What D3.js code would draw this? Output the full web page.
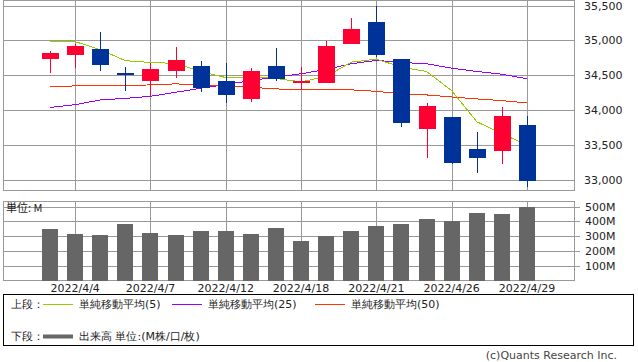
<!DOCTYPE html>
<html>
<head>
<meta charset="utf-8">
<script src="https://cdn.jsdelivr.net/npm/d3@7"></script>
<style>
  body { margin: 0; background: #fff; }
  text { font-family: "DejaVu Sans", sans-serif; }
  .jp { font-family: "Noto Sans CJK JP", sans-serif; }
</style>
</head>
<body>
<div id="chart"></div>
<script>
const dates = ["2022/4/1", "2022/4/4", "2022/4/5", "2022/4/6", "2022/4/7", "2022/4/8", "2022/4/11", "2022/4/12", "2022/4/13", "2022/4/14",
  "2022/4/18", "2022/4/19", "2022/4/20", "2022/4/21", "2022/4/22", "2022/4/25", "2022/4/26", "2022/4/27", "2022/4/28", "2022/4/29"]
const open_values = [34730, 34790, 34870, 34525, 34420, 34555, 34625, 34410, 34150, 34625, 34400, 34385, 34945, 35260, 34725, 33720, 33900, 33440, 33415, 33790]
const high_values = [34840, 34950, 35115, 34610, 34680, 34900, 34700, 34670, 34595, 34885, 34610, 34985, 35320, 35495, 34725, 34105, 33905, 33685, 34045, 33915]
const low_values = [34530, 34600, 34555, 34265, 34190, 34455, 34255, 34095, 34120, 34420, 34280, 34380, 34945, 34755, 33760, 33315, 33220, 33095, 33225, 32895]
const close_values = [34818, 34922, 34641, 34497, 34584, 34721, 34308, 34220, 34565, 34451, 34412, 34911, 35161, 34793, 33811, 34049, 33240, 33302, 33916, 32977]
const ma5_values = [34981, 34981, 34866, 34707, 34682, 34668, 34552, 34465, 34475, 34451, 34403, 34480, 34686, 34730, 34614, 34552, 34278, 33830, 33661, 33493]
const ma25_values = [34036, 34075, 34143, 34166, 34195, 34253, 34311, 34364, 34422, 34470, 34519, 34581, 34663, 34711, 34682, 34663, 34600, 34552, 34513, 34447]
const ma50_values = [34331, 34345, 34345, 34345, 34360, 34374, 34360, 34345, 34325, 34302, 34288, 34288, 34288, 34267, 34230, 34215, 34186, 34158, 34133, 34100]
const volume_values = [346, 312, 305, 380, 319, 305, 332, 332, 312, 353, 264, 298, 332, 366, 380, 414, 400, 454, 447, 495]

const tick_dates = ["2022/4/4", "2022/4/7", "2022/4/12", "2022/4/18", "2022/4/21", "2022/4/26", "2022/4/29"]
const price_ticks = [33000, 33500, 34000, 34500, 35000, 35500]
const volume_ticks = [100, 200, 300, 400, 500]

const width = 638
const height = 362
const left = 3
const right = 574

const svg = d3.select("#chart")
  .append("svg")
  .attr("width", width)
  .attr("height", height)
  .style("display", "block")

const x = d3.scalePoint().domain(dates).range([left, right]).padding(1.875)
const px = (d) => Math.round(x(d)) + 0.5

// price panel: top 0.5 .. bottom 190.5
const price_top = 0.5, price_bottom = 190.5
const y = d3.scaleLinear().domain([33000, 35500]).range([179.5, 5.5])

// volume panel
const vol_top = 201.5, vol_bottom = 280.5
const yv = d3.scaleLinear().domain([0, 500]).range([vol_bottom, 206.5])

const grid = "#999"

const draw_frame = (top, bottom) => {
  const g = svg.append("g").attr("shape-rendering", "crispEdges")
  g.selectAll("line.v")
    .data(tick_dates)
    .join("line")
    .attr("x1", px).attr("x2", px)
    .attr("y1", top).attr("y2", bottom)
    .attr("stroke", grid)
  g.append("rect")
    .attr("x", left + 0.5).attr("y", top)
    .attr("width", right - left).attr("height", bottom - top)
    .attr("fill", "none").attr("stroke", grid)
  return g
}

const price_grid = draw_frame(price_top, price_bottom)
price_grid.selectAll("line.h")
  .data(price_ticks)
  .join("line")
  .attr("x1", left).attr("x2", right)
  .attr("y1", (d) => Math.round(y(d)) + 0.5).attr("y2", (d) => Math.round(y(d)) + 0.5)
  .attr("stroke", grid)

const vol_grid = draw_frame(vol_top, vol_bottom)
vol_grid.selectAll("line.h")
  .data(volume_ticks)
  .join("line")
  .attr("x1", left).attr("x2", right + 6)
  .attr("y1", (d) => Math.round(yv(d)) + 0.5).attr("y2", (d) => Math.round(yv(d)) + 0.5)
  .attr("stroke", grid)

// price labels
svg.selectAll("text.price")
  .data(price_ticks)
  .join("text")
  .attr("x", 584)
  .attr("y", (d) => y(d) + 4)
  .attr("font-size", 11)
  .attr("fill", "#222")
  .text(d3.format(","))

svg.selectAll("text.vol")
  .data(volume_ticks)
  .join("text")
  .attr("x", 585)
  .attr("y", (d) => yv(d) + 4)
  .attr("font-size", 11)
  .attr("fill", "#222")
  .text((d) => d + "M")

svg.selectAll("text.date")
  .data(tick_dates)
  .join("text")
  .attr("x", (d) => x(d))
  .attr("y", 292)
  .attr("text-anchor", "middle")
  .attr("font-size", 11)
  .attr("fill", "#222")
  .text((d) => d)

// moving averages
const ma_line = (values, color) => {
  const line = d3.line()
    .x((d, i) => x(dates[i]))
    .y((d) => y(d))
  svg.append("path")
    .datum(values)
    .attr("d", line)
    .attr("fill", "none")
    .attr("stroke", color)
    .attr("stroke-width", 1)
    .attr("shape-rendering", "crispEdges")
}
ma_line(ma25_values, "#9900ff")
ma_line(ma50_values, "#ff3300")
ma_line(ma5_values, "#99cc00")

// candles
const up_color = "#ff0033"
const down_color = "#003399"
const candles = dates.map((d, i) => ({
  date: d, open: open_values[i], high: high_values[i], low: low_values[i], close: close_values[i]
}))
const candle_color = (d) => d.close >= d.open ? up_color : down_color

const cg = svg.append("g").attr("shape-rendering", "crispEdges")
cg.selectAll("line")
  .data(candles)
  .join("line")
  .attr("x1", (d) => px(d.date)).attr("x2", (d) => px(d.date))
  .attr("y1", (d) => y(d.high)).attr("y2", (d) => y(d.low))
  .attr("stroke", candle_color)
cg.selectAll("rect")
  .data(candles)
  .join("rect")
  .attr("x", (d) => Math.round(x(d.date)) - 8)
  .attr("width", 17)
  .attr("y", (d) => y(Math.max(d.open, d.close)))
  .attr("height", (d) => Math.max(2, Math.abs(y(d.open) - y(d.close))))
  .attr("fill", candle_color)

// volume bars
svg.append("g")
  .attr("shape-rendering", "crispEdges")
  .selectAll("rect")
  .data(volume_values)
  .join("rect")
  .attr("x", (d, i) => Math.round(x(dates[i])) - 8)
  .attr("width", 16)
  .attr("y", (d) => yv(d))
  .attr("height", (d) => vol_bottom - yv(d))
  .attr("fill", "#666")

svg.append("text")
  .attr("class", "jp")
  .attr("x", 6).attr("y", 212)
  .attr("font-size", 11)
  .attr("fill", "#222")
  .text("単位: M")

// legend
svg.append("rect")
  .attr("x", 3.5).attr("y", 294.5)
  .attr("width", 630).attr("height", 51)
  .attr("fill", "none").attr("stroke", "#000")
  .attr("shape-rendering", "crispEdges")

const legend_items = [
  { x: 43, y: 304, color: "#99cc00", w: 1, label: "単純移動平均(5)" },
  { x: 172, y: 304, color: "#9900ff", w: 1, label: "単純移動平均(25)" },
  { x: 315, y: 304, color: "#ff3300", w: 1, label: "単純移動平均(50)" },
  { x: 43, y: 336, color: "#666", w: 4, label: "出来高 単位:(M株/口/枚)" }
]
const lg = svg.append("g").attr("class", "jp")
lg.selectAll("line")
  .data(legend_items)
  .join("line")
  .attr("x1", (d) => d.x).attr("x2", (d) => d.x + 30)
  .attr("y1", (d) => d.y + 0.5).attr("y2", (d) => d.y + 0.5)
  .attr("stroke", (d) => d.color)
  .attr("stroke-width", (d) => d.w)
lg.selectAll("text.item")
  .data(legend_items)
  .join("text")
  .attr("x", (d) => d.x + 36)
  .attr("y", (d) => d.y + 4)
  .attr("font-size", 11)
  .attr("fill", "#222")
  .text((d) => d.label)
lg.selectAll("text.row")
  .data([["上段：", 304], ["下段：", 336]])
  .join("text")
  .attr("x", 11)
  .attr("y", (d) => d[1] + 4)
  .attr("font-size", 11)
  .attr("fill", "#222")
  .text((d) => d[0])

svg.append("text")
  .attr("x", 617).attr("y", 359)
  .attr("text-anchor", "end")
  .attr("font-size", 11)
  .attr("fill", "#444")
  .text("(c)Quants Research Inc.")
</script>
</body>
</html>
